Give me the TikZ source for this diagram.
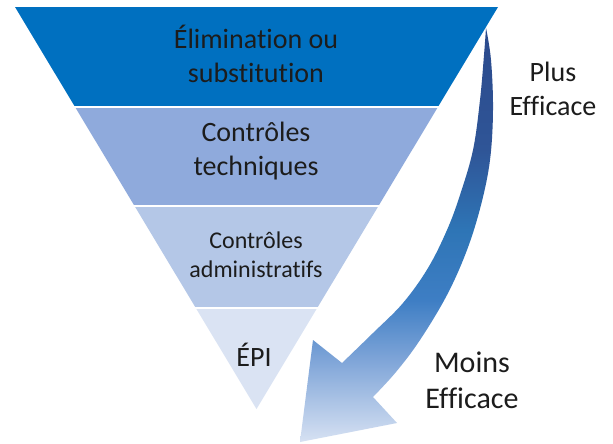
\documentclass[tikz,border=0pt]{standalone}
\usepackage{fontspec}
\setmainfont{Carlito}[RawFeature=-liga]
\definecolor{bandA}{HTML}{0070C0}
\definecolor{bandB}{HTML}{8FAADC}
\definecolor{bandC}{HTML}{B4C7E7}
\definecolor{bandD}{HTML}{DAE3F3}
\definecolor{txt}{HTML}{1C1C1C}
\pgfdeclareverticalshading{arrowshade}{100bp}{%
  color(0bp)=(rgb,255:red,213;green,224;blue,242);
  color(25.2bp)=(rgb,255:red,213;green,224;blue,242);
  color(34.9bp)=(rgb,255:red,127;green,165;blue,216);
  color(42.1bp)=(rgb,255:red,62;green,126;blue,196);
  color(50.6bp)=(rgb,255:red,46;green,117;blue,182);
  color(60.3bp)=(rgb,255:red,47;green,85;blue,151);
  color(75bp)=(rgb,255:red,43;green,74;blue,140);
  color(100bp)=(rgb,255:red,43;green,74;blue,140)}
\begin{document}
\begin{tikzpicture}[x=1pt,y=-1pt,
  lbl/.style={align=center,text=txt,inner sep=0pt},
  big/.style={lbl,font=\fontsize{28}{34}\selectfont},
  small/.style={lbl,font=\fontsize{24}{29}\selectfont}]
\useasboundingbox[fill=white] (0,0) rectangle (613,444);
\begin{scope}
  \clip (15,7) -- (498,7) -- (256.5,409) -- cycle;
  \fill[bandA] (0,7) rectangle (613,106);
  \fill[bandB] (0,108) rectangle (613,205);
  \fill[bandC] (0,207) rectangle (613,307);
  \fill[bandD] (0,309) rectangle (613,412);
\end{scope}
\shade[shading=arrowshade]
  plot[smooth,tension=0.6] coordinates {(486,28) (491,60) (493,110) (490,160) (481,205) (467,250) (447,295) (420,340) (396,372) (373,397)}
  -- (397,423) -- (300,442) -- (313,340)
  -- plot[smooth,tension=0.6] coordinates {(342,363) (373,333) (403,303) (428,268) (447,230) (460,195) (473,150) (480,100) (484,55) (486,28)}
  -- cycle;
\node[big] (elim) at (256,54) {Élimination ou\\substitution};
\node[big] (tech) at (256,151) {Contrôles\\techniques};
\node[small] (admin) at (256,255) {Contrôles\\administratifs};
\node[big] (epi) at (254,355) {ÉPI};
\node[big] (plus) at (553,89) {Plus\\Efficace};
\node[lbl,font=\fontsize{30}{36}\selectfont] (moins) at (472,380) {Moins\\Efficace};
\end{tikzpicture}
\end{document}
